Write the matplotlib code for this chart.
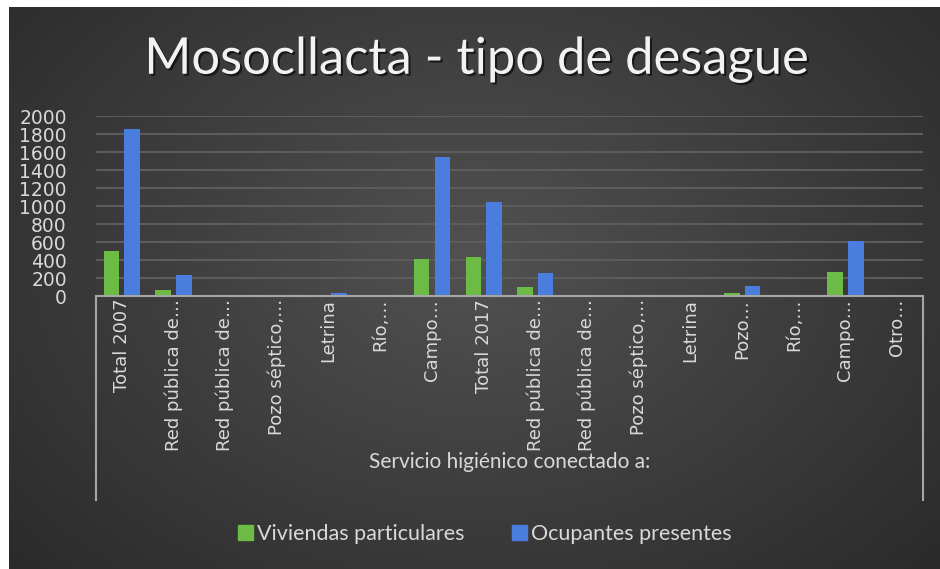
import numpy as np
import matplotlib.pyplot as plt
import matplotlib.patheffects as pe
from matplotlib.patches import Patch

# Chart data
categories = ["Total 2007", "Red pública de…", "Red pública de…", "Pozo séptico,…",
              "Letrina", "Río,…", "Campo…", "Total 2017", "Red pública de…",
              "Red pública de…", "Pozo séptico,…", "Letrina", "Pozo…", "Río,…",
              "Campo…", "Otro…"]
viviendas = [500, 62, 0, 2, 3, 0, 410, 430, 105, 0, 2, 2, 35, 0, 263, 0]
ocupantes = [1860, 235, 0, 15, 38, 0, 1550, 1040, 255, 0, 12, 12, 110, 0, 610, 0]
y_ticks = list(range(0, 2001, 200))

W, H = 940, 569
fig = plt.figure(figsize=(W / 100, H / 100), dpi=100, facecolor="white")

# dark radial background (chart area leaves a thin white strip top/left)
bg = fig.add_axes([9 / W, 0, (W - 9) / W, (H - 7) / H])
yy, xx = np.mgrid[0:1:300j, 0:1:500j]
r = np.sqrt(((xx - 0.5) / 0.75) ** 2 + ((yy - 0.45) / 0.9) ** 2)
shade = np.clip(0.32 - 0.17 * r, 0.15, 0.32)
bg.imshow(np.dstack([shade] * 3), aspect="auto", extent=[0, 1, 0, 1])
bg.axis("off")

txt = "#d9d9d9"
ax = fig.add_axes([96 / W, 1 - 296 / H, 827 / W, 180 / H])
ax.set_facecolor("none")
x = np.arange(len(categories))
ax.bar(x - 0.2, viviendas, 0.3, color="#6cbb45", zorder=3)
ax.bar(x + 0.2, ocupantes, 0.3, color="#4a7dde", zorder=3)

ax.set_ylim(0, 2000)
ax.set_xlim(-0.5, len(categories) - 0.5)
ax.set_yticks(y_ticks)
ax.yaxis.grid(True, color="#5c5c5c", linewidth=1.5, zorder=0)
ax.tick_params(axis="y", length=0, pad=21, labelsize=13.5, colors=txt)
ax.set_xticks(x)
ax.set_xticklabels(categories, rotation=90, fontsize=13, color=txt)
ax.tick_params(axis="x", length=0, pad=2)
for s in ["top", "left", "right"]:
    ax.spines[s].set_visible(False)
ax.spines["bottom"].set_color("#a6a6a6")
ax.spines["bottom"].set_linewidth(1.5)
ax.spines["bottom"].set_zorder(4)

# category axis box sides
depth = -(500 - 296) / 180
for xe in (0, 1):
    ax.plot([xe, xe], [0, depth], transform=ax.transAxes, color="#a6a6a6",
            lw=1.5, clip_on=False)
ax.text(0.5, -(462 - 296) / 180, "Servicio higiénico conectado a:",
        transform=ax.transAxes, ha="center", va="center", fontsize=15,
        family="Lato", color=txt)

fig.text(477 / W, 1 - 60 / H, "Mosocllacta - tipo de desague", ha="center",
         va="center", fontsize=36.5, family="Lato", color="#f2f2f2",
         path_effects=[pe.withSimplePatchShadow(offset=(1.5, -1.5),
                                                shadow_rgbFace="black", alpha=0.6)])

handles = [Patch(color="#6cbb45", label="Viviendas particulares"),
           Patch(color="#4a7dde", label="Ocupantes presentes")]
leg = fig.legend(handles=handles, loc="center", bbox_to_anchor=(485 / W, 1 - 534 / H),
                 ncol=2, frameon=False, handlelength=0.7, handleheight=0.7,
                 handletextpad=0.2, columnspacing=2.2,
                 prop={"family": "Lato", "size": 15.5})
for t in leg.get_texts():
    t.set_color(txt)

fig.savefig("out.png", dpi=100, facecolor=fig.get_facecolor())
